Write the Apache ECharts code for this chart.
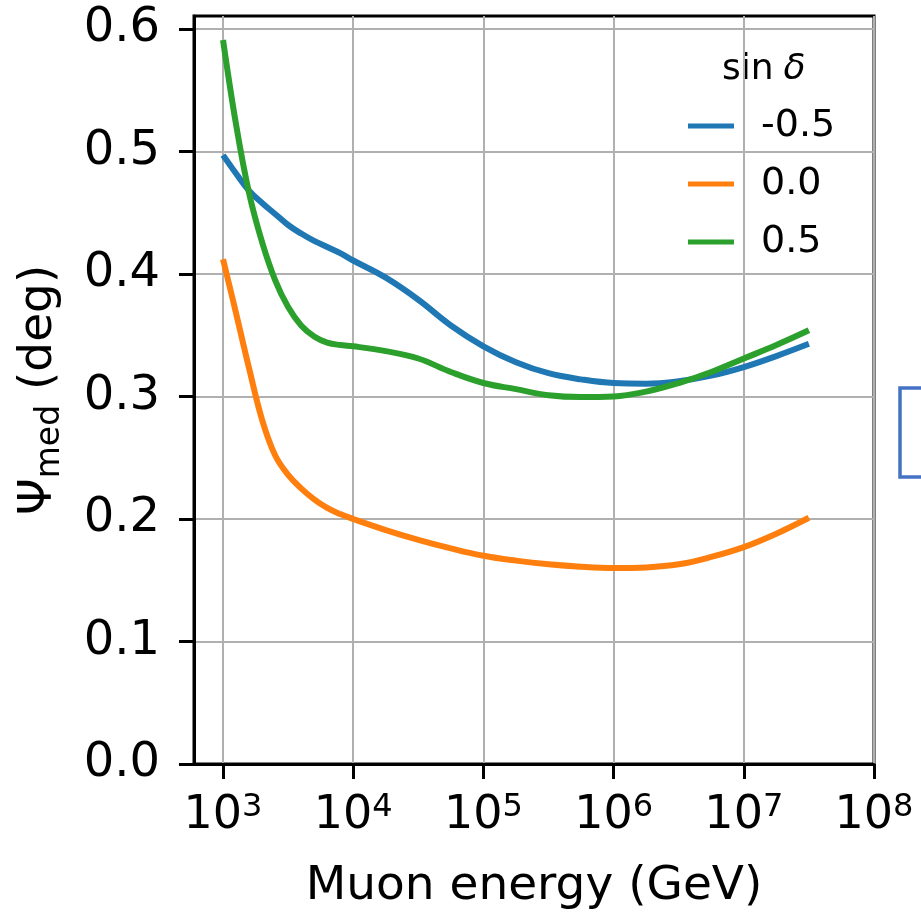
<!DOCTYPE html>
<html>
<head>
<meta charset="utf-8">
<script src="https://cdn.jsdelivr.net/npm/echarts@6/dist/echarts.min.js"></script>
<style>
  html, body { margin: 0; padding: 0; background: #fff; }
  #chart { width: 921px; height: 914px; }
</style>
</head>
<body>
<div id="chart"></div>
<script>
// log10 of muon energy (GeV) at which each curve is sampled
const logEnergy = [3.0, 3.1, 3.2, 3.3, 3.4, 3.5, 3.6, 3.7, 3.8, 3.9, 4.0,
                   4.25, 4.5, 4.75, 5.0, 5.25, 5.5, 5.75, 6.0, 6.25, 6.5, 6.75, 7.0, 7.25, 7.5];

// median angular error (deg) per declination band
const psiSinMinus05 = [0.497, 0.482, 0.468, 0.458, 0.449, 0.440, 0.433, 0.427, 0.422, 0.417, 0.411,
                       0.397, 0.379, 0.358, 0.341, 0.328, 0.319, 0.314, 0.311, 0.3105, 0.3125, 0.317, 0.324, 0.333, 0.343];
const psiSin00 = [0.412, 0.368, 0.323, 0.281, 0.252, 0.236, 0.225, 0.216, 0.209, 0.204, 0.200,
                  0.191, 0.183, 0.176, 0.170, 0.166, 0.163, 0.161, 0.160, 0.1605, 0.163, 0.169, 0.177, 0.188, 0.201];
const psiSinPlus05 = [0.591, 0.522, 0.466, 0.426, 0.395, 0.373, 0.358, 0.349, 0.344, 0.342, 0.341,
                      0.337, 0.331, 0.320, 0.311, 0.306, 0.301, 0.2995, 0.300, 0.304, 0.311, 0.320, 0.331, 0.342, 0.354];

const seriesNames = ['-0.5', '0.0', '0.5'];
const seriesValues = [psiSinMinus05, psiSin00, psiSinPlus05];
const seriesColors = ['#1f77b4', '#ff7f0e', '#2ca02c'];

const xTickValues = [1e3, 1e4, 1e5, 1e6, 1e7, 1e8];
const yTickValues = [0.0, 0.1, 0.2, 0.3, 0.4, 0.5, 0.6];

const FONT = 'DejaVu Sans';

const chart = echarts.init(document.getElementById('chart'), null, { renderer: 'canvas' });

const series = seriesNames.map((name, i) => ({
  name: name,
  type: 'line',
  smooth: 0.4,
  symbol: 'none',
  lineStyle: { width: 6, color: seriesColors[i], cap: 'butt' },
  itemStyle: { color: seriesColors[i] },
  data: logEnergy.map((e, k) => [Math.pow(10, e), seriesValues[i][k]])
}));

const option = {
  animation: false,
  backgroundColor: '#ffffff',
  grid: {
    left: 194, right: 47, top: 16, bottom: 150,
    outerBoundsMode: 'none',
    containLabel: false,
    show: true, borderColor: '#000', borderWidth: 3, backgroundColor: 'transparent'
  },
  xAxis: {
    type: 'log',
    logBase: 10,
    min: 598.4,
    max: 1e8,
    name: 'Muon energy (GeV)',
    nameLocation: 'middle',
    nameGap: 99,
    nameTextStyle: { fontFamily: FONT, fontSize: 47, color: '#000' },
    axisLine: { show: true, onZero: false, lineStyle: { color: '#000', width: 3 } },
    axisTick: { show: true, inside: false, length: 15, customValues: xTickValues,
                lineStyle: { color: '#000', width: 3 } },
    splitLine: { show: true, lineStyle: { color: '#b0b0b0', width: 2 } },
    minorTick: { show: false },
    axisLabel: {
      customValues: xTickValues,
      margin: 28,
      formatter: function (v) {
        const e = Math.round(Math.log10(v));
        return '{b|10}{s|' + e + '}';
      },
      rich: {
        b: { fontFamily: FONT, fontSize: 46, color: '#000', lineHeight: 48 },
        s: { fontFamily: FONT, fontSize: 32, color: '#000', verticalAlign: 'top', lineHeight: 48 }
      }
    }
  },
  yAxis: {
    type: 'value',
    min: 0,
    max: 0.6106,
    name: '{a|Ψ}{s|med}{a| (deg)}',
    nameLocation: 'middle',
    nameGap: 127,
    nameRotate: 90,
    nameTextStyle: {
      rich: {
        a: { fontFamily: FONT, fontSize: 47, color: '#000', lineHeight: 56 },
        s: { fontFamily: FONT, fontSize: 33, color: '#000', lineHeight: 56, verticalAlign: 'bottom', padding: [16, 0, 0, 0] }
      }
    },
    axisLine: { show: true, onZero: false, lineStyle: { color: '#000', width: 3 } },
    axisTick: { show: true, inside: false, length: 15, customValues: yTickValues,
                lineStyle: { color: '#000', width: 3 } },
    splitLine: { show: true, lineStyle: { color: '#b0b0b0', width: 2 } },
    axisLabel: {
      customValues: yTickValues,
      margin: 34,
      fontFamily: FONT,
      fontSize: 48,
      color: '#000',
      formatter: function (v) { return v.toFixed(1); }
    }
  },
  legend: {
    orient: 'vertical',
    left: 688,
    top: 106,
    padding: 0,
    itemGap: 18,
    itemWidth: 46,
    itemHeight: 5,
    icon: 'rect',
    data: seriesNames,
    textStyle: { fontFamily: FONT, fontSize: 38, color: '#000', lineHeight: 40, padding: [0, 0, 0, 22] }
  },
  graphic: [
    {
      type: 'text',
      left: 722,
      top: 52,
      style: {
        text: '{u|sin}{i|δ}',
        rich: {
          u: { fontFamily: FONT, fontSize: 36, fill: '#000' },
          i: { fontFamily: FONT, fontSize: 36, fontStyle: 'italic', fill: '#000', padding: [0, 0, 0, 10] }
        }
      }
    },
    {
      type: 'rect',
      shape: { x: 900, y: 388, width: 60, height: 89 },
      style: { fill: 'none', stroke: '#4472c4', lineWidth: 3.5 }
    }
  ],
  series: series
};

chart.setOption(option);
</script>
</body>
</html>
